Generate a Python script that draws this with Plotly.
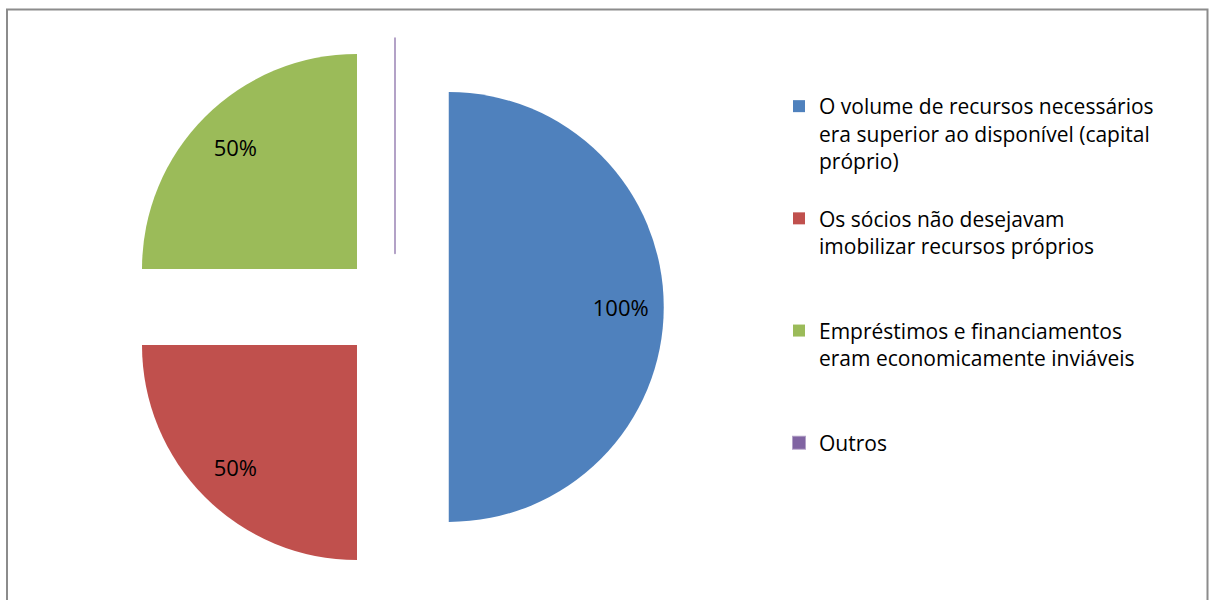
import plotly.graph_objects as go

# Share of respondents citing each reason (multiple answers allowed)
reasons = [
    "O volume de recursos necessários<br>era superior ao disponível (capital<br>próprio)<br> ",
    "Os sócios não desejavam<br>imobilizar recursos próprios<br> <br> ",
    "Empréstimos e financiamentos<br>eram economicamente inviáveis<br> <br> ",
    "Outros",
]
percent_values = [100, 50, 50, 0]
slice_colors = ["#4F81BD", "#C0504D", "#9BBB59", "#8064A2"]

FONT = "'Open Sans', 'Noto Sans', sans-serif"
W, H = 1209, 600

# pie centre and size in pixels, converted to a paper-fraction domain
cx, cy, side = 395, 307, 537.5
pie_domain = dict(
    x=[(cx - side / 2) / W, (cx + side / 2) / W],
    y=[1 - (cy + side / 2) / H, 1 - (cy - side / 2) / H],
)
pulls = [0.25, 0.25, 0.25, 0.25]

fig = go.Figure()

# exploded pie, all slices pulled out from the centre
fig.add_trace(
    go.Pie(
        labels=reasons,
        values=percent_values,
        sort=False,
        direction="clockwise",
        rotation=0,
        pull=pulls,
        marker=dict(
            colors=slice_colors,
            line=dict(
                color=["rgba(0,0,0,0)", "rgba(0,0,0,0)", "rgba(0,0,0,0)", "rgba(128,100,162,0.6)"],
                width=[0, 0, 0, 2],
            ),
        ),
        textinfo="none",
        domain=pie_domain,
        hoverinfo="label+value",
    )
)

# transparent ring on top carrying the percentage labels near the slice edges
fig.add_trace(
    go.Pie(
        labels=reasons,
        values=percent_values,
        sort=False,
        direction="clockwise",
        rotation=0,
        pull=pulls,
        hole=0.6,
        marker=dict(colors=["rgba(0,0,0,0)"] * 4, line=dict(width=0)),
        texttemplate="%{value}%",
        textposition=["inside", "inside", "inside", "none"],
        insidetextorientation="horizontal",
        textfont=dict(family=FONT, size=22, color="#000000"),
        domain=pie_domain,
        hoverinfo="skip",
        showlegend=False,
    )
)

fig.update_layout(
    width=W,
    height=H,
    margin=dict(l=0, r=0, t=0, b=0),
    paper_bgcolor="white",
    plot_bgcolor="white",
    font=dict(family=FONT, size=21, color="#000000"),
    legend=dict(
        x=779 / W,
        y=1 - 86 / H,
        xanchor="left",
        yanchor="top",
        valign="top",
        font=dict(family=FONT, size=21, color="#000000"),
        bgcolor="rgba(0,0,0,0)",
    ),
    shapes=[
        dict(
            type="rect",
            xref="paper",
            yref="paper",
            x0=7 / W,
            x1=1207.5 / W,
            y0=-0.1,
            y1=1 - 9.5 / H,
            line=dict(color="#8c8c8c", width=2),
            fillcolor="rgba(0,0,0,0)",
            layer="below",
        )
    ],
)

fig.write_html("out.html")
